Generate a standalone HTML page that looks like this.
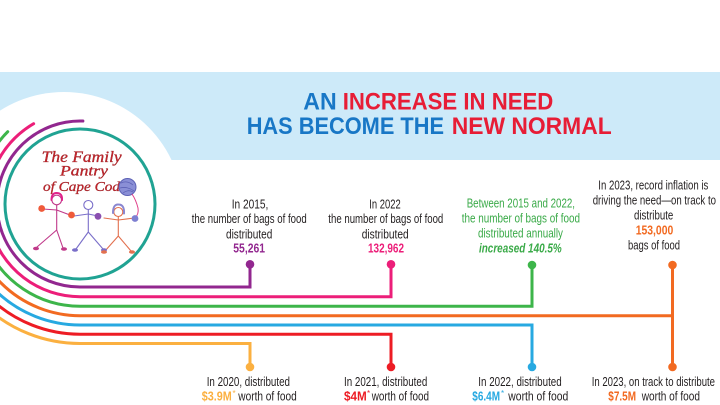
<!DOCTYPE html>
<html>
<head>
<meta charset="utf-8">
<style>
  html,body{margin:0;padding:0;background:#fff;}
  svg{display:block;}
  .t{font-family:"Liberation Sans Narrow","Liberation Sans",sans-serif;font-size:12.5px;fill:#231f20;}
  .b{font-weight:bold;}
  .h{font-family:"Liberation Sans",sans-serif;font-weight:bold;font-size:24px;}
  .logo{font-family:"Liberation Serif",serif;font-style:italic;fill:#c8242b;stroke:#8e1a1f;stroke-width:0.3px;}
</style>
</head>
<body>
<svg width="720" height="405" viewBox="0 0 720 405" xmlns="http://www.w3.org/2000/svg">
  <rect width="720" height="405" fill="#ffffff"/>
  <!-- blue band -->
  <rect x="0" y="72" width="720" height="88" fill="#cdeaf9"/>
  <!-- white circle behind logo -->
  <circle cx="64" cy="211" r="119" fill="#ffffff"/>

  <!-- title -->
  <text class="h" x="303.3" y="109.3" fill="#1877c6" textLength="33.4" lengthAdjust="spacingAndGlyphs">AN</text>
  <text class="h" x="342.7" y="109.3" fill="#e71d36" textLength="210.6" lengthAdjust="spacingAndGlyphs">INCREASE IN NEED</text>
  <text class="h" x="246.7" y="134" fill="#1877c6" textLength="197.3" lengthAdjust="spacingAndGlyphs">HAS BECOME THE</text>
  <text class="h" x="451.7" y="134" fill="#e71d36" textLength="160" lengthAdjust="spacingAndGlyphs">NEW NORMAL</text>

  <!-- logo teal circle -->
  <circle cx="80" cy="204" r="75" fill="#ffffff" stroke="#20a393" stroke-width="3"/>

  <!-- arcs/lines -->
  <g fill="none" stroke-width="3" stroke-linecap="round" stroke-linejoin="miter">
    <path d="M82.9 121.05 A83 83 0 1 0 80 287 H250 V264" stroke="#92278f"/>
    <path d="M33.65 123.72 A92.7 92.7 0 0 0 80 296.7 H391 V264" stroke="#ec1e79"/>
    <path d="M7.73 131.73 A102.2 102.2 0 0 0 80 306.2 H532 V265" stroke="#3db54a"/>
    <path d="M-31.7 204 A111.7 111.7 0 0 0 80 315.7 H672.5" stroke="#f26a21"/>
    <path d="M672.5 264 V367" stroke="#f26a21"/>
    <path d="M-41 204 A121 121 0 0 0 80 325 H532 V367" stroke="#27a9e1"/>
    <path d="M-50.2 204 A130.2 130.2 0 0 0 80 334.2 H391 V367" stroke="#ed1c24"/>
    <path d="M-59.5 204 A139.5 139.5 0 0 0 80 343.5 H250 V367" stroke="#fbb040"/>
  </g>
  <!-- dots -->
  <circle cx="250" cy="264.3" r="4.3" fill="#92278f"/>
  <circle cx="391" cy="264.3" r="4.3" fill="#ec1e79"/>
  <circle cx="532" cy="265" r="4.3" fill="#3db54a"/>
  <circle cx="672.5" cy="265" r="4.3" fill="#f26a21"/>
  <circle cx="250" cy="367" r="4.3" fill="#fbb040"/>
  <circle cx="391" cy="367" r="4.3" fill="#ed1c24"/>
  <circle cx="532" cy="367" r="4.3" fill="#27a9e1"/>
  <circle cx="672.5" cy="367" r="4.3" fill="#f26a21"/>

  <!-- logo text -->
  <text class="logo" x="41.7" y="162" font-size="16" textLength="80" lengthAdjust="spacingAndGlyphs">The Family</text>
  <text class="logo" x="60" y="175.5" font-size="15" textLength="48" lengthAdjust="spacingAndGlyphs">Pantry</text>
  <text class="logo" x="43" y="191" font-size="14" textLength="77" lengthAdjust="spacingAndGlyphs">of Cape Cod</text>

  <!-- yarn ball -->
  <circle cx="127.5" cy="187" r="8.5" fill="#8a8fd6" stroke="#5d62b5" stroke-width="1"/>
  <path d="M121 183 q6 -3 12 2 M120 188 q7 -2 14 3 M123 193 q5 -4 10 -1" stroke="#5d62b5" stroke-width="0.8" fill="none"/>
  <path d="M132 194 q4 6 6 14 q1 6 -3 10" stroke="#e0408a" stroke-width="1" fill="none"/>

  <!-- stick figures -->
  <g fill="none" stroke-width="1.1" stroke-linecap="round">
    <!-- figure 1 pink -->
    <circle cx="56.7" cy="200" r="4.8" stroke="#c0398a"/>
    <path d="M51.5 200 q0 -7 5 -7 q6 0 5.5 7" stroke="#e0218a" stroke-width="2"/>
    <path d="M56.7 205 V230 M56.7 230 L37 247 M56.7 230 L63 248 M56.7 210 L43 209 M56.7 210 L70 215" stroke="#c0398a"/>
    <!-- figure 2 lavender -->
    <circle cx="88.3" cy="205" r="4.5" stroke="#7a6fc9"/>
    <path d="M88.3 209.5 V232 M88.3 232 L76 249 M88.3 232 L103 249 M88.3 214 L74 216 M88.3 214 L98 216" stroke="#7a6fc9"/>
    <!-- figure 3 salmon -->
    <circle cx="118.3" cy="212" r="4.5" stroke="#e2704f"/>
    <path d="M113 213 q0 -9 5.5 -8.5 q6 0 5.5 9" stroke="#8a86d0" stroke-width="2"/>
    <path d="M118.3 216.5 V236 M118.3 236 L105 251 M118.3 236 L131 251 M118.3 220 L104 218 M118.3 220 L134 218" stroke="#e2704f"/>
  </g>
  <!-- mittens -->
  <circle cx="41.7" cy="208.5" r="3.4" fill="#ef5a3a"/>
  <circle cx="71.5" cy="215" r="3.4" fill="#ef5a3a"/>
  <circle cx="98" cy="216.3" r="3.4" fill="#8a4fb0"/>
  <circle cx="135" cy="218.5" r="3.4" fill="#7e7fd1"/>
  <ellipse cx="36" cy="248.5" rx="3" ry="1.8" fill="#c0398a"/>
  <ellipse cx="64" cy="249" rx="3" ry="1.8" fill="#c0398a"/>
  <ellipse cx="75" cy="250" rx="3" ry="1.8" fill="#7a6fc9"/>
  <ellipse cx="104" cy="250" rx="3" ry="1.8" fill="#7a6fc9"/>
  <ellipse cx="104" cy="252" rx="3" ry="1.8" fill="#e2704f"/>
  <ellipse cx="132" cy="252" rx="3" ry="1.8" fill="#e2704f"/>

  <!-- label 1 -->
  <text class="t" x="231.7" y="208.3" textLength="36.6" lengthAdjust="spacingAndGlyphs">In 2015,</text>
  <text class="t" x="191.7" y="223" textLength="115" lengthAdjust="spacingAndGlyphs">the number of bags of food</text>
  <text class="t" x="226" y="238.3" textLength="46.3" lengthAdjust="spacingAndGlyphs">distributed</text>
  <text class="t b" x="233.3" y="252.5" fill="#92278f" style="fill:#92278f" textLength="31.7" lengthAdjust="spacingAndGlyphs">55,261</text>

  <!-- label 2 -->
  <text class="t" x="369.3" y="208.3" textLength="31.4" lengthAdjust="spacingAndGlyphs">In 2022</text>
  <text class="t" x="328.3" y="223" textLength="115" lengthAdjust="spacingAndGlyphs">the number of bags of food</text>
  <text class="t" x="361.7" y="238.3" textLength="47" lengthAdjust="spacingAndGlyphs">distributed</text>
  <text class="t b" x="368" y="252.5" style="fill:#ec1e79" textLength="36" lengthAdjust="spacingAndGlyphs">132,962</text>

  <!-- label 3 green -->
  <text class="t" x="466.7" y="207.3" style="fill:#3aaa48" textLength="108.3" lengthAdjust="spacingAndGlyphs">Between 2015 and 2022,</text>
  <text class="t" x="461.7" y="222.5" style="fill:#3aaa48" textLength="118.3" lengthAdjust="spacingAndGlyphs">the number of  bags of food</text>
  <text class="t" x="478" y="237.5" style="fill:#3aaa48" textLength="85" lengthAdjust="spacingAndGlyphs">distributed annually</text>
  <text class="t b" x="479" y="252.3" style="fill:#3aaa48;font-style:italic" textLength="82.7" lengthAdjust="spacingAndGlyphs">increased 140.5%</text>

  <!-- label 4 orange -->
  <text class="t" x="598.3" y="189.3" textLength="110" lengthAdjust="spacingAndGlyphs">In 2023, record inflation is</text>
  <text class="t" x="592.7" y="204.3" textLength="123.3" lengthAdjust="spacingAndGlyphs">driving the need—on track to</text>
  <text class="t" x="634" y="219.3" textLength="39.3" lengthAdjust="spacingAndGlyphs">distribute</text>
  <text class="t b" x="635.7" y="234.3" style="fill:#f26a21" textLength="37.6" lengthAdjust="spacingAndGlyphs">153,000</text>
  <text class="t" x="628" y="249.5" textLength="52" lengthAdjust="spacingAndGlyphs">bags of food</text>

  <!-- bottom labels -->
  <text class="t" x="206.7" y="386" textLength="83.3" lengthAdjust="spacingAndGlyphs">In 2020, distributed</text>
  <text class="t b" x="201.7" y="400.7" style="fill:#fbb040" textLength="30" lengthAdjust="spacingAndGlyphs">$3.9M</text>
  <text class="t" x="232.5" y="396" style="fill:#fbb040;font-size:8px">*</text>
  <text class="t" x="238.3" y="400.7" textLength="58.4" lengthAdjust="spacingAndGlyphs">worth of food</text>

  <text class="t" x="344" y="386" textLength="83.3" lengthAdjust="spacingAndGlyphs">In 2021, distributed</text>
  <text class="t b" x="344" y="400.7" style="fill:#ed1c24" textLength="22.7" lengthAdjust="spacingAndGlyphs">$4M</text>
  <text class="t" x="367" y="396" style="fill:#ed1c24;font-size:8px">*</text>
  <text class="t" x="371.7" y="400.7" textLength="57.3" lengthAdjust="spacingAndGlyphs">worth of food</text>

  <text class="t" x="478.3" y="386" textLength="83.4" lengthAdjust="spacingAndGlyphs">In 2022, distributed</text>
  <text class="t b" x="472.3" y="400.7" style="fill:#27a9e1" textLength="27.7" lengthAdjust="spacingAndGlyphs">$6.4M</text>
  <text class="t" x="501" y="396" style="fill:#27a9e1;font-size:8px">*</text>
  <text class="t" x="508.3" y="400.7" textLength="60" lengthAdjust="spacingAndGlyphs">worth of food</text>

  <text class="t" x="591.7" y="386" textLength="123.3" lengthAdjust="spacingAndGlyphs">In 2023, on track to distribute</text>
  <text class="t b" x="608.3" y="400.7" style="fill:#f26a21" textLength="27.7" lengthAdjust="spacingAndGlyphs">$7.5M</text>
  <text class="t" x="641.7" y="400.7" textLength="58.3" lengthAdjust="spacingAndGlyphs">worth of food</text>
</svg>
</body>
</html>
